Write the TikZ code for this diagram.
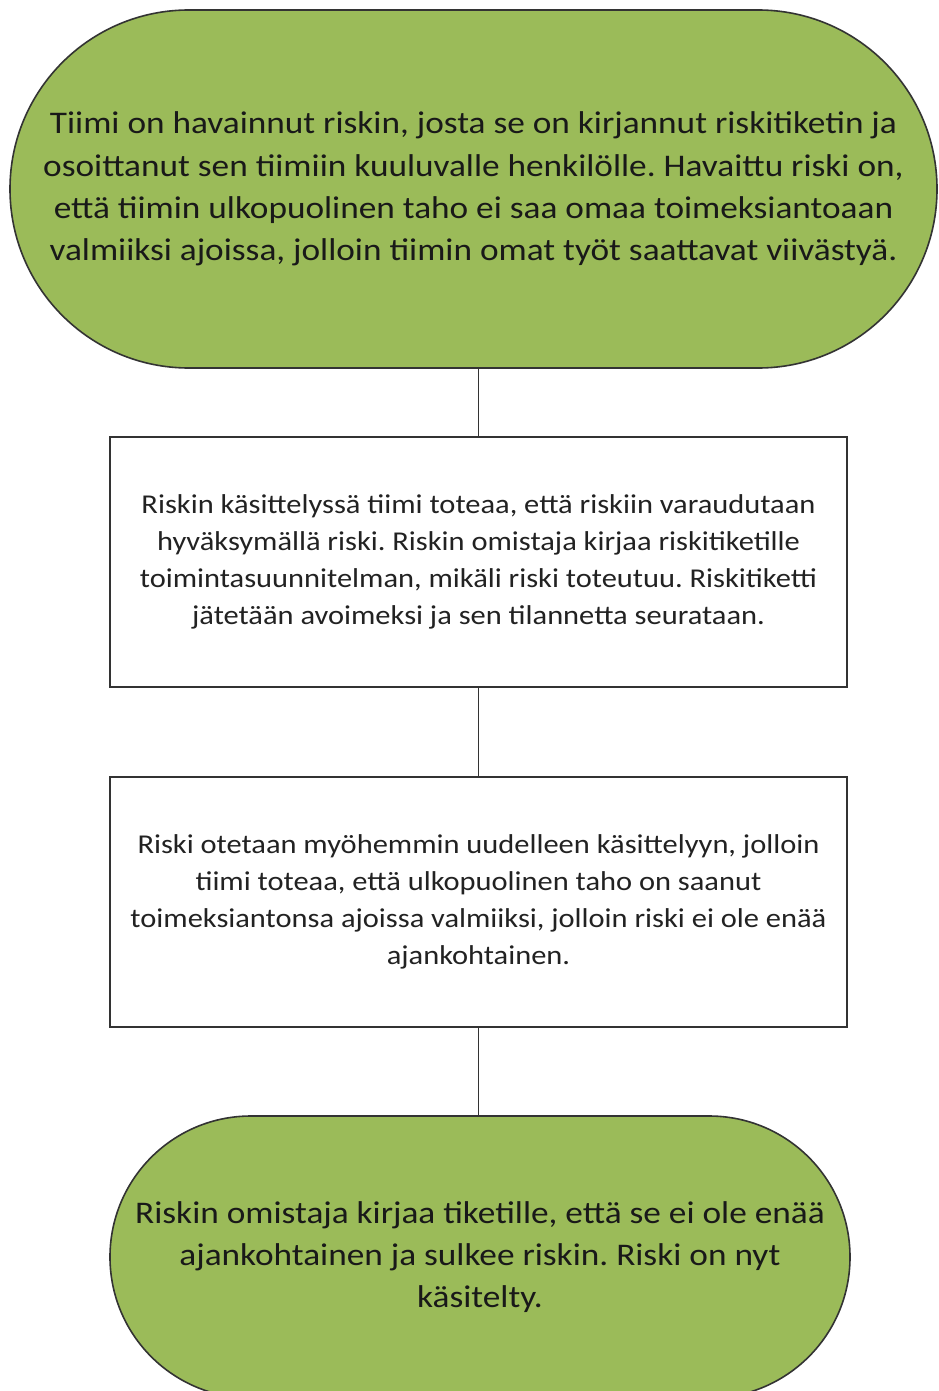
\documentclass[tikz,border=0pt]{standalone}
\usepackage{fontspec}
\setmainfont[FakeStretch=1.12]{Carlito}
\definecolor{termgreen}{HTML}{9BBB59}
\definecolor{edgegray}{HTML}{333333}
\definecolor{boxtext}{HTML}{222222}
\begin{document}
\frenchspacing
\begin{tikzpicture}[x=1pt,y=-1pt,
  terminal/.style={draw=edgegray,line width=1.6pt,fill=termgreen,align=center,
    text=black!90,font=\fontsize{31.5}{42.3}\selectfont,inner sep=0pt},
  stepbox/.style={draw=edgegray,line width=1.6pt,fill=white,align=center,
    text=boxtext,font=\fontsize{27.2}{36.8}\selectfont,
    minimum width=737pt,minimum height=250pt,inner sep=0pt},
  link/.style={draw=edgegray,line width=1.6pt}]
\clip (0,0) rectangle (938,1391);
\fill[white] (0,0) rectangle (938,1391);

\node[terminal,minimum width=927pt,minimum height=358pt,rounded corners=178.9pt] (t1) at (473.5,189)
  {Tiimi on havainnut riskin, josta se on kirjannut riskitiketin ja\\
   osoittanut sen tiimiin kuuluvalle henkilölle. Havaittu riski on,\\
   että tiimin ulkopuolinen taho ei saa omaa toimeksiantoaan\\
   valmiiksi ajoissa, jolloin tiimin omat työt saattavat viivästyä.};

\node[stepbox] (b1) at (478.5,562)
  {Riskin käsittelyssä tiimi toteaa, että riskiin varaudutaan\\
   hyväksymällä riski. Riskin omistaja kirjaa riskitiketille\\
   toimintasuunnitelman, mikäli riski toteutuu. Riskitiketti\\
   jätetään avoimeksi ja sen tilannetta seurataan.};

\node[stepbox] (b2) at (478.5,902)
  {Riski otetaan myöhemmin uudelleen käsittelyyn, jolloin\\
   tiimi toteaa, että ulkopuolinen taho on saanut\\
   toimeksiantonsa ajoissa valmiiksi, jolloin riski ei ole enää\\
   ajankohtainen.};

\node[terminal,minimum width=740pt,minimum height=282pt,rounded corners=140.9pt] (t2) at (480,1257)
  {Riskin omistaja kirjaa tiketille, että se ei ole enää\\
   ajankohtainen ja sulkee riskin. Riski on nyt\\
   käsitelty.};

\draw[link] (b1.north) -- (b1.north |- t1.south);
\draw[link] (b1.south) -- (b2.north);
\draw[link] (b2.south) -- (b2.south |- t2.north);
\end{tikzpicture}
\end{document}
